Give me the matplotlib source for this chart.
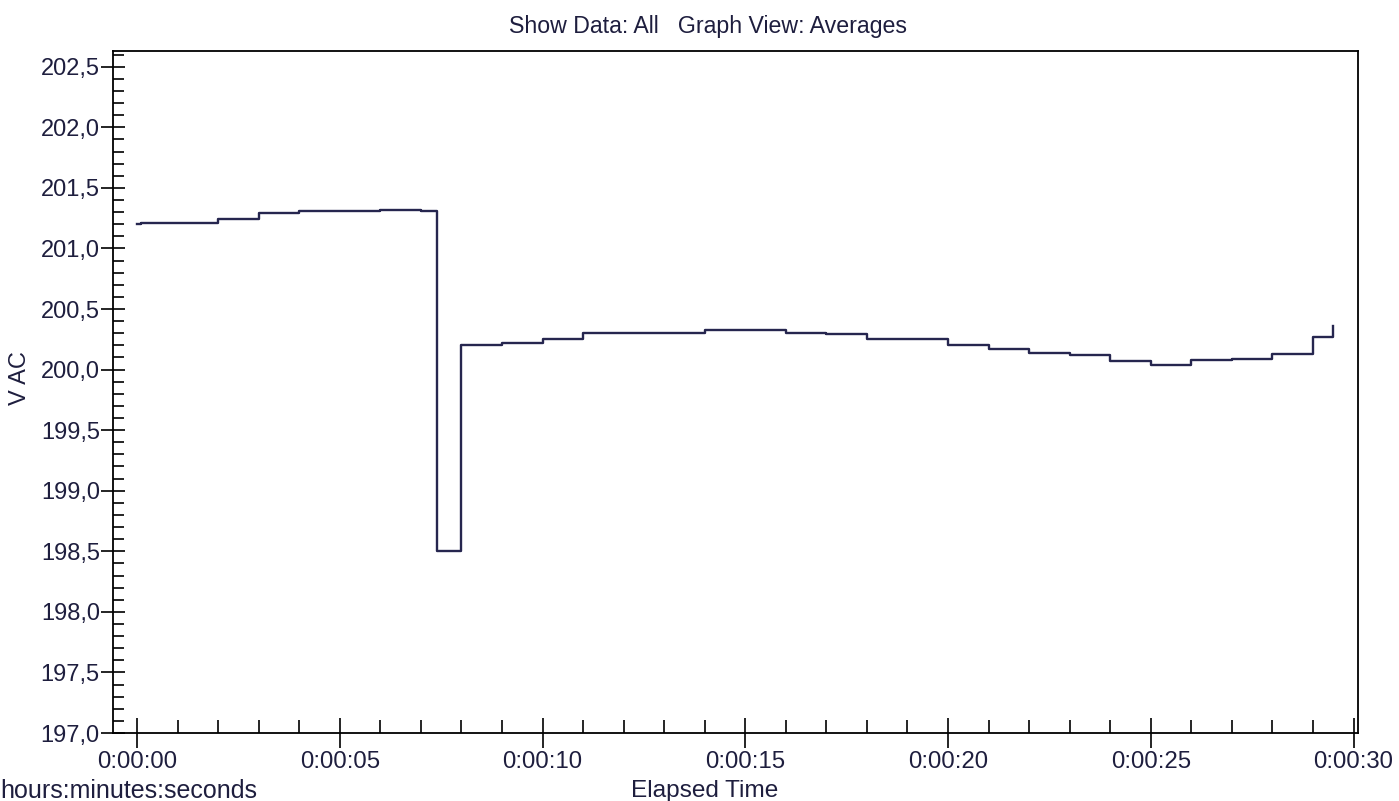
import matplotlib
matplotlib.use("Agg")
import matplotlib.pyplot as plt
from matplotlib.ticker import MultipleLocator, FuncFormatter

# step change times (seconds) and the average voltage held from that time on
times = [0, 0.1, 2, 3, 4, 6, 7, 7.4, 8, 9, 10, 11, 14, 16, 17, 18, 20, 21,
         22, 23, 24, 25, 26, 27, 28, 29, 29.5]
volts = [201.20, 201.21, 201.24, 201.29, 201.31, 201.32, 201.31, 198.50,
         200.20, 200.22, 200.25, 200.30, 200.33, 200.30, 200.29, 200.25,
         200.20, 200.17, 200.14, 200.12, 200.07, 200.04, 200.08, 200.09,
         200.13, 200.265, 200.36]

title = "Show Data: All   Graph View: Averages"
text_color = "#1e1e3e"
line_color = "#26264f"

plt.rcParams["font.family"] = ["Liberation Sans", "DejaVu Sans"]

fig = plt.figure(figsize=(13.99, 8.01), dpi=100)
ax = fig.add_axes([113 / 1399, 1 - 733 / 801, (1358 - 113) / 1399, (733 - 51) / 801])

ax.step(times, volts, where="post", color=line_color, lw=1.7)

ax.set_xlim(-0.592, 30.11)
ax.set_ylim(197.0, 202.63)

ax.xaxis.set_major_locator(MultipleLocator(5))
ax.xaxis.set_minor_locator(MultipleLocator(1))
ax.yaxis.set_major_locator(MultipleLocator(0.5))
ax.yaxis.set_minor_locator(MultipleLocator(0.1))


def hms(x, pos):
    s = int(round(x))
    return f"{s // 3600}:{(s % 3600) // 60:02d}:{s % 60:02d}"


ax.xaxis.set_major_formatter(FuncFormatter(hms))
ax.yaxis.set_major_formatter(FuncFormatter(lambda v, p: f"{v:.1f}".replace(".", ",")))

ax.tick_params(axis="x", which="major", direction="inout", length=22, width=1.2,
               labelsize=17.3, labelcolor=text_color, pad=2)
ax.tick_params(axis="x", which="minor", direction="in", length=9.5, width=1.2)
ax.tick_params(axis="y", which="major", direction="inout", length=17, width=1.2,
               labelsize=17, labelcolor=text_color, pad=1)
ax.tick_params(axis="y", which="minor", direction="in", length=8, width=1.2)

for sp in ax.spines.values():
    sp.set_linewidth(1.3)

fig.text(708 / 1399, 1 - 27 / 801, title, ha="center", va="center",
         fontsize=16.7, color=text_color)
fig.text(20 / 1399, 1 - 378 / 801, "V AC", rotation=90, ha="center", va="center",
         fontsize=17, color=text_color)
fig.text(0, 1 - 791 / 801, "hours:minutes:seconds", ha="left", va="center",
         fontsize=18, color=text_color)
fig.text(705 / 1399, 1 - 791 / 801, "Elapsed Time", ha="center", va="center",
         fontsize=17.6, color=text_color)

fig.savefig("out.png", dpi=100)
